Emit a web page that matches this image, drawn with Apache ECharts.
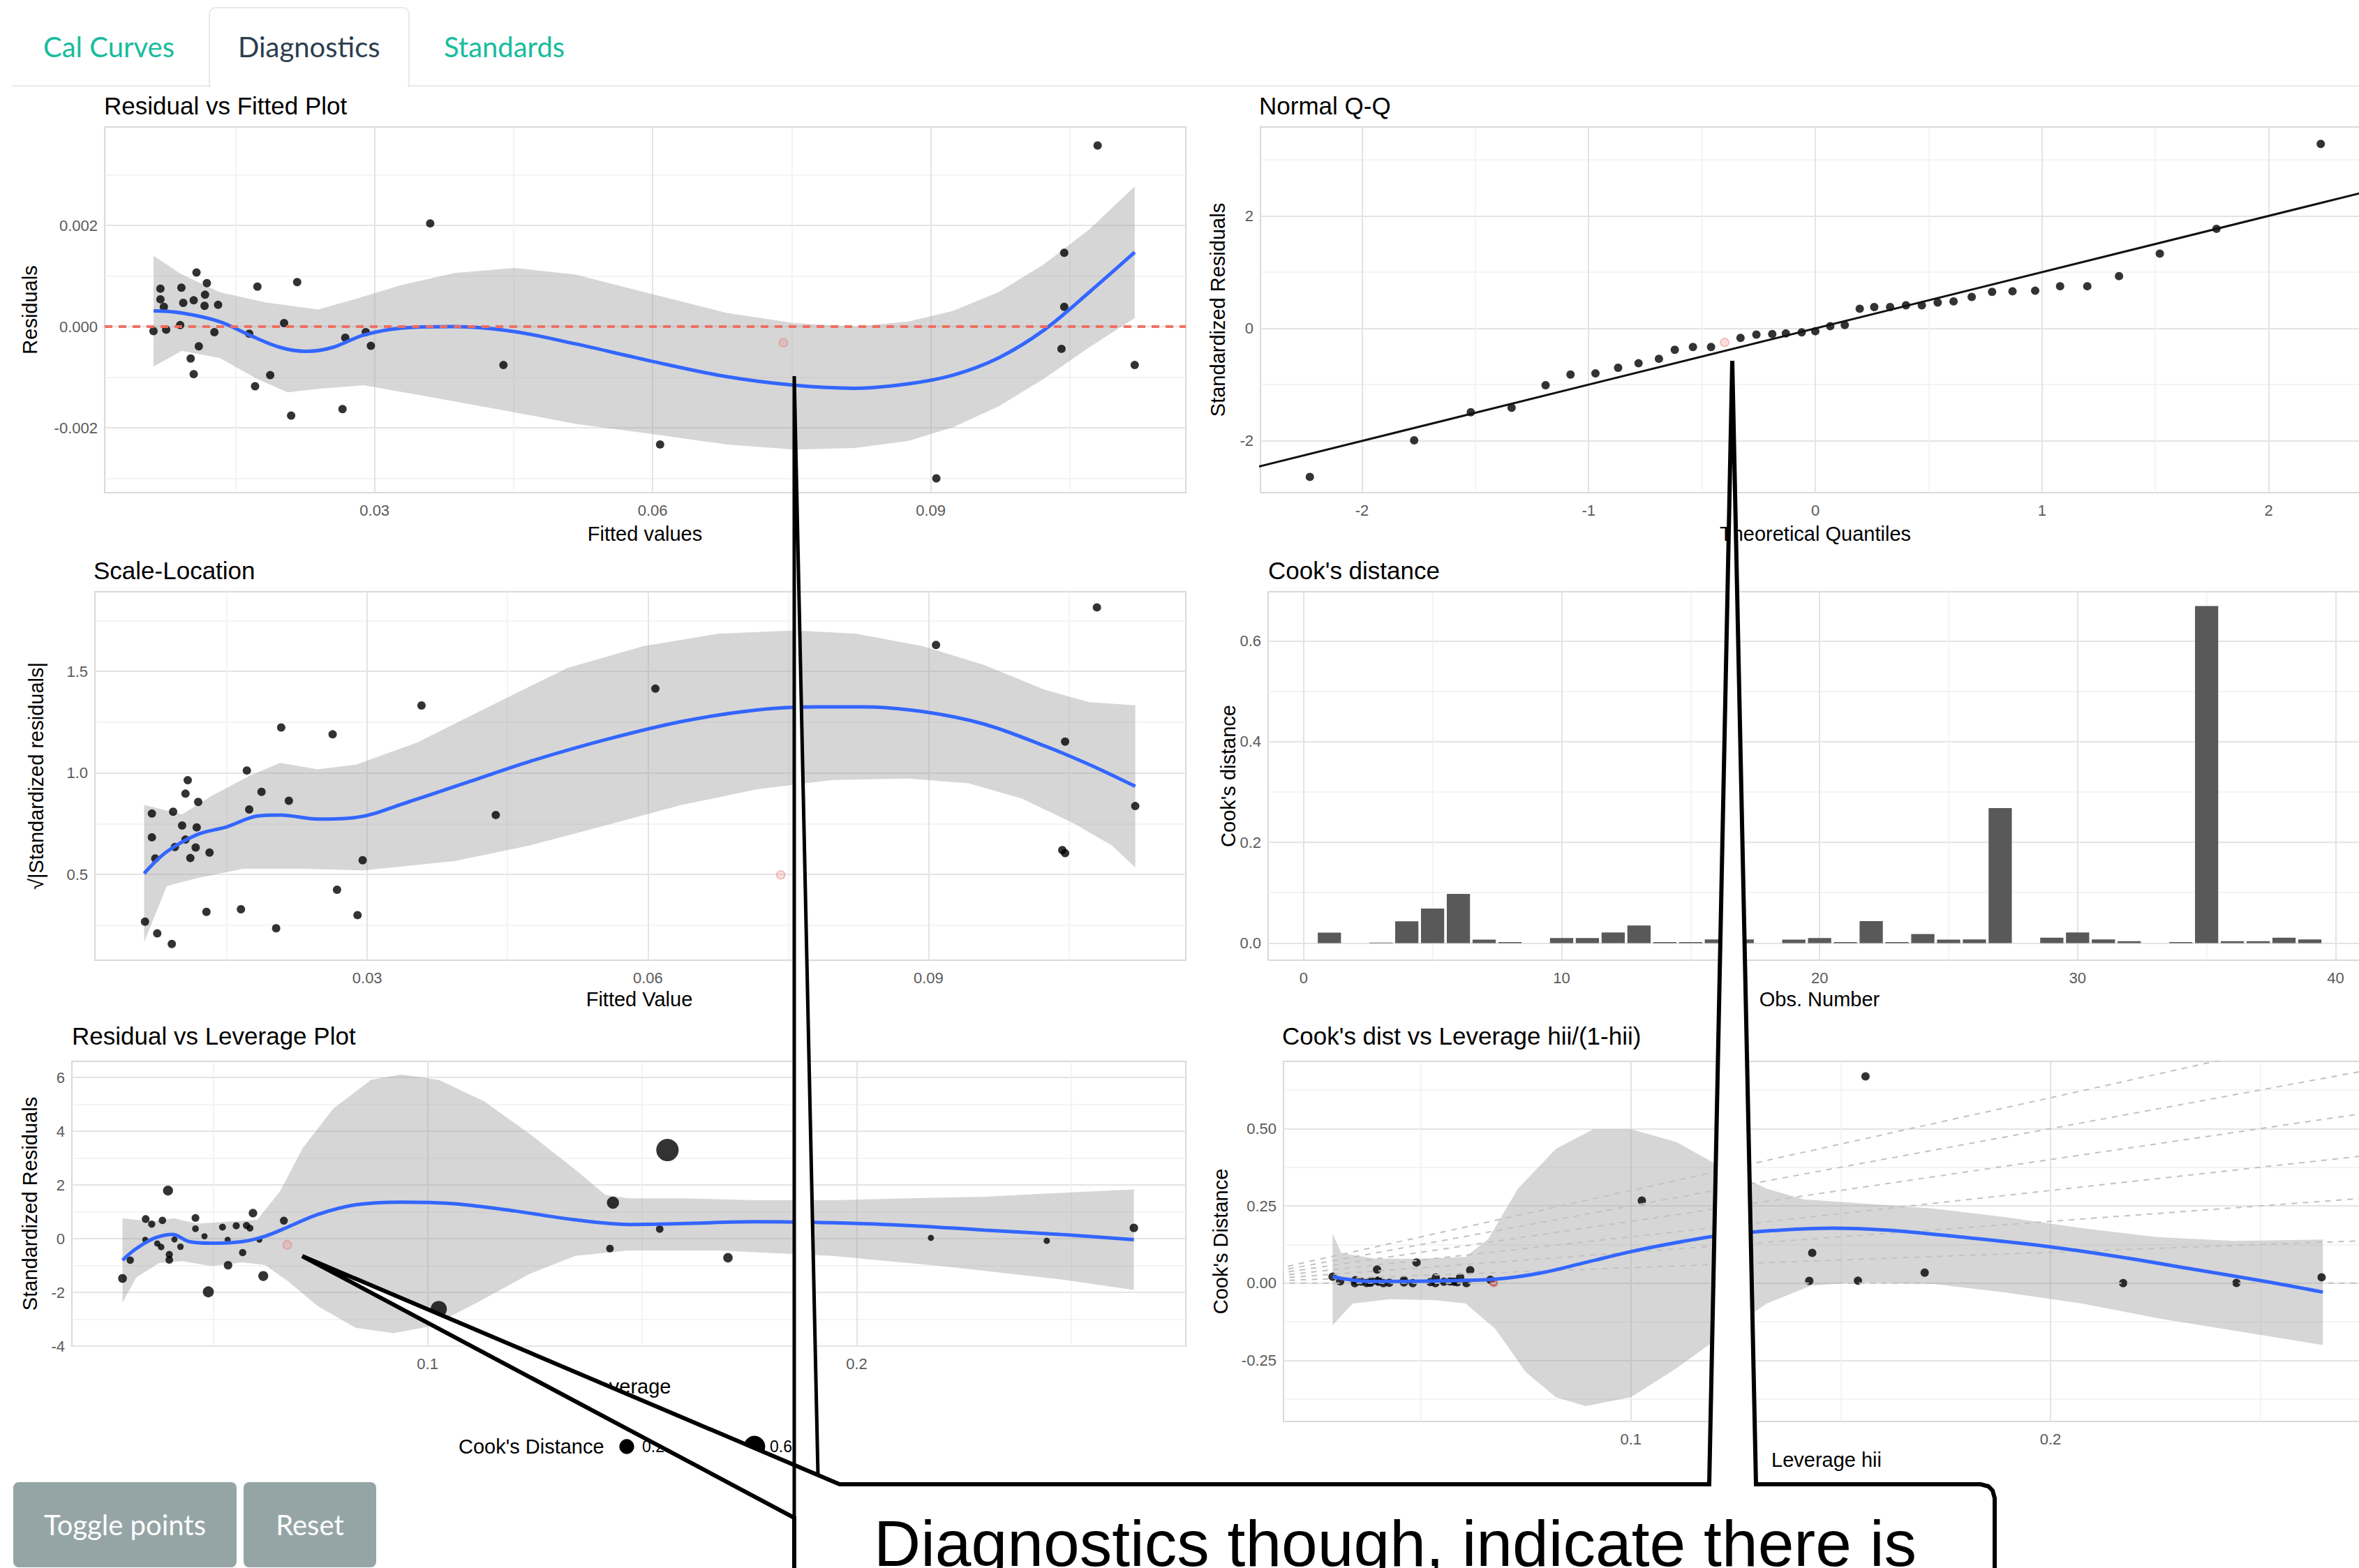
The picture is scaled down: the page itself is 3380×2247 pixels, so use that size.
<!DOCTYPE html>
<html><head><meta charset="utf-8">
<script src="https://cdn.jsdelivr.net/npm/echarts@6/dist/echarts.min.js"></script>
<style>html,body{margin:0;padding:0;background:#fff;overflow:hidden;width:3380px;height:2247px}#c{width:3440px;height:2247px}</style>
</head><body><div id="c"></div><script>
// ---------------- DATA ----------------
// Panel 1: Residual vs Fitted
const rvfX = [0.00615,0.0069,0.0069,0.00727,0.00752,0.00903,0.00916,0.00936,0.01016,0.01049,0.01049,0.01079,0.01104,0.01166,0.01171,0.01191,0.01272,0.01312,0.01648,0.01711,0.01736,0.01874,0.02024,0.021,0.02165,0.02654,0.02684,0.02905,0.0296,0.036,0.0439,0.0608,0.0906,0.1044,0.1044,0.1041,0.108,0.112];
const rvfY = [-0.00009,0.00075,0.00054,0.00039,-0.00006,0.00003,0.00077,0.00047,-0.00063,-0.00094,0.00052,0.00107,-0.00039,0.00041,0.00063,0.00086,-0.00011,0.00043,-0.00014,-0.00118,0.00079,-0.00096,0.00007,-0.00176,0.00088,-0.00163,-0.00022,-0.00011,-0.00038,0.00204,-0.00076,-0.00233,-0.003,0.00146,0.00039,-0.00044,0.00358,-0.00076];
const rvfExcluded = [[0.0741,-0.00032]];
const rvfSmooth = [[0.00616,0.00031],[0.00918,0.00027],[0.01327,0.0001],[0.01653,-0.00017],[0.0198,-0.00041],[0.02265,-0.00049],[0.02551,-0.00041],[0.02878,-0.00017],[0.03286,-0.00003],[0.03857,0],[0.0451,-0.0001],[0.05163,-0.00034],[0.0598,-0.00068],[0.068,-0.00099],[0.0753,-0.00116],[0.0818,-0.00122],[0.0876,-0.00113],[0.0924,-0.00096],[0.0973,-0.00062],[0.1022,-0.00007],[0.1071,0.00068],[0.112,0.00147]];
const rvfUpper = [[0.00616,0.0014],[0.0092,0.00103],[0.0133,0.00068],[0.0182,0.00048],[0.0239,0.00034],[0.028,0.00055],[0.0329,0.00082],[0.0386,0.00106],[0.0451,0.00116],[0.0516,0.00103],[0.0598,0.00065],[0.068,0.00027],[0.0753,0.00007],[0.0818,0],[0.0876,0.0001],[0.0924,0.00031],[0.0973,0.00068],[0.1022,0.00123],[0.1071,0.00192],[0.112,0.00277]];
const rvfLower = [[0.00616,-0.00079],[0.0092,-0.00048],[0.0133,-0.00062],[0.0173,-0.00103],[0.0206,-0.0013],[0.0239,-0.00123],[0.0288,-0.00116],[0.0353,-0.00137],[0.0435,-0.00164],[0.0516,-0.00192],[0.0598,-0.00212],[0.068,-0.00233],[0.0753,-0.00243],[0.0818,-0.0024],[0.0876,-0.00226],[0.0924,-0.00199],[0.0973,-0.00158],[0.1022,-0.00103],[0.1071,-0.00041],[0.112,0.00017]];

// Panel 2: Normal Q-Q
const qqX = [-2.23,-1.77,-1.52,-1.34,-1.19,-1.08,-0.97,-0.87,-0.78,-0.69,-0.62,-0.54,-0.46,-0.33,-0.26,-0.19,-0.13,-0.06,0,0.066,0.13,0.196,0.26,0.33,0.40,0.47,0.54,0.61,0.69,0.78,0.87,0.97,1.08,1.20,1.34,1.52,1.77,2.23];
const qqY = [-2.64,-1.99,-1.49,-1.41,-1.01,-0.82,-0.80,-0.70,-0.62,-0.54,-0.38,-0.33,-0.33,-0.17,-0.11,-0.10,-0.09,-0.07,-0.05,0.04,0.06,0.35,0.38,0.38,0.41,0.41,0.46,0.48,0.56,0.65,0.66,0.67,0.75,0.75,0.93,1.33,1.77,3.28];
const qqExcluded = [[-0.40,-0.25]];
const qqLine = {intercept: 0.0, slope: 1.0};

// Panel 3: Scale-Location
const slX = [0.00624,0.00755,0.00911,0.00698,0.00698,0.00734,0.00925,0.00944,0.01021,0.01057,0.01057,0.01081,0.01109,0.01166,0.01177,0.01193,0.01281,0.01314,0.0165,0.01713,0.01738,0.0187,0.02026,0.02162,0.02677,0.02896,0.02951,0.04374,0.0208,0.0263,0.0358,0.0608,0.0908,0.108,0.1046,0.1043,0.1046,0.1121];
const slY = [0.268,0.21,0.158,0.80,0.683,0.579,0.809,0.635,0.741,0.672,0.898,0.964,0.581,0.633,0.732,0.857,0.316,0.608,0.329,1.012,0.82,0.907,0.235,0.863,0.425,0.30,0.570,0.793,1.224,1.19,1.332,1.415,1.63,1.815,1.154,0.62,0.605,0.837];
const slExcluded = [[0.0742,0.498]];
const slSmooth = [[0.00615,0.505],[0.00857,0.612],[0.0118,0.696],[0.015,0.735],[0.0183,0.788],[0.0207,0.793],[0.0247,0.773],[0.0288,0.781],[0.0344,0.857],[0.0409,0.957],[0.0474,1.057],[0.0555,1.164],[0.0636,1.253],[0.0716,1.31],[0.0781,1.325],[0.083,1.325],[0.0894,1.302],[0.0959,1.241],[0.1024,1.133],[0.1072,1.041],[0.1121,0.934]];
const slUpper = [[0.00615,0.842],[0.0102,0.796],[0.0134,0.888],[0.0175,0.988],[0.0207,1.049],[0.0247,1.018],[0.0288,1.041],[0.0353,1.149],[0.0433,1.333],[0.0514,1.517],[0.0595,1.624],[0.0676,1.686],[0.0757,1.701],[0.0822,1.686],[0.0894,1.624],[0.0959,1.532],[0.1024,1.41],[0.1072,1.348],[0.1121,1.333]];
const slLower = [[0.00615,0.167],[0.00857,0.443],[0.0118,0.482],[0.0167,0.528],[0.0231,0.528],[0.0296,0.52],[0.0393,0.566],[0.0474,0.643],[0.0555,0.742],[0.0636,0.842],[0.0716,0.919],[0.0797,0.965],[0.0878,0.972],[0.0943,0.949],[0.1,0.873],[0.1056,0.75],[0.1096,0.643],[0.1121,0.535]];

// Panel 4: Cook's distance by observation
const cookD = [0.0205,0,0.001,0.043,0.0686,0.0977,0.0068,0.002,0,0.01,0.01,0.021,0.035,0.002,0.002,0.007,0.007,0,0.0068,0.01,0.002,0.0436,0.002,0.018,0.0068,0.007,0.268,0,0.0105,0.021,0.007,0.0036,0,0.002,0.669,0.0036,0.0036,0.0105,0.007];

// Panel 5/6: leverage, standardized residuals, Cook's distance
const rvlLev  = [0.0289,0.0307,0.0343,0.0357,0.0342,0.037,0.0379,0.0382,0.0395,0.0398,0.0398,0.041,0.0424,0.0459,0.0459,0.048,0.0522,0.0534,0.0535,0.0554,0.0578,0.0586,0.0569,0.0593,0.0608,0.0617,0.0489,0.0665,0.1026,0.1432,0.1425,0.1541,0.1559,0.17,0.2173,0.2443,0.2646];
const rvlRes  = [-1.48,-0.80,0.73,0.54,-0.04,-0.18,-0.31,0.68,1.79,-0.59,-0.79,-0.03,-0.30,0.77,0.37,0.09,0.43,-0.04,-0.99,0.48,0.49,0.39,-0.52,0.95,-0.04,-1.39,-1.98,0.67,-2.62,1.34,-0.37,0.36,3.30,-0.71,0.03,-0.08,0.40];
const rvlCook = [0.021,0.006,0.0095,0.005,0.0002,0.0005,0.0013,0.0065,0.044,0.0047,0.0085,0.0002,0.0013,0.0095,0.0022,0.0003,0.0034,0.0002,0.0185,0.0045,0.0049,0.0031,0.0055,0.019,0.0002,0.042,0.067,0.011,0.267,0.098,0.0076,0.0079,0.669,0.034,0.0002,0.0007,0.019];
const rvlExcluded = [[0.0673,-0.23]];
const cdlExcluded = [[0.0673,0.001]];
const rvlSmooth = [[0.0289,-0.80],[0.0321,-0.37],[0.0365,0.03],[0.0406,0.16],[0.0444,-0.11],[0.0497,-0.17],[0.0568,-0.11],[0.0621,0.09],[0.0674,0.43],[0.0744,0.9],[0.0832,1.26],[0.0938,1.36],[0.1062,1.30],[0.1203,1.03],[0.1344,0.70],[0.1467,0.53],[0.1591,0.56],[0.1767,0.63],[0.1944,0.59],[0.212,0.49],[0.2296,0.32],[0.2473,0.16],[0.2646,-0.04]];
const rvlUpper = [[0.0289,0.76],[0.0356,0.63],[0.0409,0.76],[0.0462,0.56],[0.0533,0.63],[0.0603,0.70],[0.0656,1.76],[0.0709,3.37],[0.078,4.84],[0.0868,5.91],[0.0938,6.11],[0.1026,5.91],[0.1132,5.11],[0.1238,3.90],[0.1344,2.57],[0.1414,1.63],[0.1467,1.50],[0.1591,1.50],[0.1767,1.43],[0.1944,1.43],[0.212,1.50],[0.2296,1.56],[0.2473,1.70],[0.2646,1.83]];
const rvlLower = [[0.0289,-2.38],[0.0321,-1.44],[0.0374,-0.91],[0.0427,-0.84],[0.0497,-1.02],[0.0568,-0.88],[0.0621,-0.98],[0.0674,-1.58],[0.0744,-2.51],[0.0832,-3.32],[0.0921,-3.52],[0.1009,-3.25],[0.1115,-2.38],[0.1238,-1.31],[0.1344,-0.64],[0.1467,-0.44],[0.1679,-0.44],[0.1944,-0.64],[0.2208,-1.04],[0.2473,-1.51],[0.2646,-1.91]];
const cookLegend = [0.2, 0.4, 0.6];

const cdlSmooth = [[0.0289,0.021],[0.0373,0.006],[0.0462,0.006],[0.0552,0.008],[0.0677,0.013],[0.0785,0.033],[0.0892,0.067],[0.1,0.102],[0.1108,0.131],[0.1215,0.155],[0.1358,0.172],[0.1484,0.178],[0.1609,0.172],[0.1789,0.149],[0.1986,0.12],[0.2165,0.085],[0.2344,0.044],[0.2523,0.003],[0.2649,-0.029]];
const cdlUpper = [[0.0289,0.16],[0.031,0.097],[0.0391,0.079],[0.0498,0.079],[0.0606,0.085],[0.066,0.143],[0.0731,0.306],[0.0821,0.434],[0.091,0.498],[0.1,0.498],[0.1108,0.457],[0.1215,0.376],[0.1323,0.306],[0.1412,0.271],[0.1538,0.259],[0.1717,0.242],[0.1896,0.213],[0.2075,0.178],[0.2254,0.149],[0.2434,0.137],[0.2649,0.141]];
const cdlLower = [[0.0289,-0.136],[0.0337,-0.066],[0.0427,-0.052],[0.0534,-0.055],[0.0606,-0.066],[0.0677,-0.148],[0.0749,-0.287],[0.0821,-0.369],[0.0892,-0.398],[0.1,-0.369],[0.1108,-0.276],[0.1215,-0.171],[0.1323,-0.066],[0.143,-0.008],[0.1538,0.003],[0.1717,-0.002],[0.1896,-0.031],[0.2075,-0.066],[0.2254,-0.113],[0.2434,-0.153],[0.2649,-0.2]];
const cookContourSlopes = [0, 0.5, 1, 1.5, 2, 2.5, 3];

// Tick values
const p1XMajor=[0.03,0.06,0.09], p1XMinor=[0.015,0.045,0.075,0.105];
const p1YMajor=[-0.002,0,0.002], p1YMinor=[-0.003,-0.001,0.001,0.003];
const p2XMajor=[-2,-1,0,1,2], p2XMinor=[-1.5,-0.5,0.5,1.5];
const p2YMajor=[-2,0,2], p2YMinor=[-1,1,3];
const p3YMajor=[0.5,1.0,1.5], p3YMinor=[0.25,0.75,1.25,1.75];
const p4XMajor=[0,10,20,30,40], p4XMinor=[5,15,25,35];
const p4YMajor=[0,0.2,0.4,0.6], p4YMinor=[0.1,0.3,0.5];
const p5XMajor=[0.1,0.2], p5XMinor=[0.05,0.15,0.25];
const p5YMajor=[-4,-2,0,2,4,6], p5YMinor=[-3,-1,1,3,5];
const p6YMajor=[-0.25,0,0.25,0.5], p6YMinor=[-0.375,-0.125,0.125,0.375,0.625];

// ---------------- LAYOUT / STYLE ----------------
const F = '"Liberation Sans", Arial, Helvetica, sans-serif';
const LATO = 'Lato, "Liberation Sans", sans-serif';
const BLUE = '#3366FF';
const RIBBON = 'rgba(153,153,153,0.4)';
const PINK = {color:'rgba(248,118,109,0.3)', borderColor:'rgba(225,110,110,0.55)', borderWidth:1.5};

const gridBoxes = [
  {left:150, top:182, width:1549, height:524},
  {left:1806, top:182, width:1590, height:524},
  {left:136, top:848, width:1563, height:528},
  {left:1817, top:848, width:1582, height:528},
  {left:103, top:1521, width:1596, height:408},
  {left:1839, top:1521, width:1559, height:516}
];
const xRanges = [[0.000886,0.11751],[-2.448,2.448],[0.000889,0.1175],[-1.374,41.42],[0.0171,0.2767],[0.0172,0.2765]];
const yRanges = [[-0.003283,0.003946],[-2.92,3.58],[0.078,1.892],[-0.0341,0.6975],[-4.0,6.60],[-0.4474,0.7175]];

const fx2 = v => v.toFixed(2), fx3 = v => v.toFixed(3), fx1 = v => v.toFixed(1), fint = v => String(Math.round(v));
const xTicks = [[p1XMajor,p1XMinor,fx2],[p2XMajor,p2XMinor,fint],[p1XMajor,p1XMinor,fx2],[p4XMajor,p4XMinor,fint],[p5XMajor,p5XMinor,fx1],[p5XMajor,p5XMinor,fx1]];
const yTicks = [[p1YMajor,p1YMinor,fx3],[p2YMajor,p2YMinor,fint],[p3YMajor,p3YMinor,fx1],[p4YMajor,p4YMinor,fx1],[p5YMajor,p5YMinor,fint],[p6YMajor,p6YMinor,fx2]];

const grid = gridBoxes.map(g => Object.assign({show:true, backgroundColor:'#fff', borderColor:'#d9d9d9', borderWidth:2, containLabel:false}, g));

function mkAxes(dim, gi, range, major, minor, fmt) {
  return [
    {type:'value', gridIndex:gi, min:range[0], max:range[1], position: dim==='x'?'bottom':'left',
     axisLine:{show:false}, axisTick:{show:false, customValues:major},
     axisLabel:{customValues:major, formatter:fmt, color:'#5a5a5a', fontSize:22, fontFamily:F, margin: dim==='x'?14:10},
     splitLine:{show:true, lineStyle:{color:'#e4e4e4', width:2}}},
    {type:'value', gridIndex:gi, min:range[0], max:range[1], position: dim==='x'?'bottom':'left',
     axisLine:{show:false}, axisTick:{show:false, customValues:minor},
     axisLabel:{show:false, customValues:minor},
     splitLine:{show:true, lineStyle:{color:'#f1f1f1', width:1.5}}}
  ];
}
const xAxis = [], yAxis = [];
for (let i = 0; i < 6; i++) {
  xAxis.push(...mkAxes('x', i, xRanges[i], xTicks[i][0], xTicks[i][1], xTicks[i][2]));
  yAxis.push(...mkAxes('y', i, yRanges[i], yTicks[i][0], yTicks[i][1], yTicks[i][2]));
}

const zip = (a, b) => a.map((v, i) => [v, b[i]]);
function ribbon(p, upper, lower) {
  const poly = upper.concat(lower.slice().reverse());
  return {type:'custom', xAxisIndex:2*p, yAxisIndex:2*p, silent:true, data:[poly[0]],
    renderItem: (params, api) => ({type:'polygon', shape:{points: poly.map(pt => api.coord(pt))}, style:{fill:RIBBON}})};
}
function smooth(p, pts) {
  return {type:'line', xAxisIndex:2*p, yAxisIndex:2*p, data:pts, smooth:0.35, symbol:'none', silent:true,
    lineStyle:{color:BLUE, width:5}};
}
function points(p, pts, extra) {
  return Object.assign({type:'scatter', xAxisIndex:2*p, yAxisIndex:2*p, data:pts, symbolSize:12, silent:true,
    itemStyle:{color:'#000'}}, extra || {});
}
function excluded(p, pts, style) {
  return {type:'scatter', xAxisIndex:2*p, yAxisIndex:2*p, data:pts, symbolSize:12, silent:true, itemStyle:style || PINK};
}
// ggplot-like area size scale (range 1..6) converted to pixel diameter
const cookSize = c => 2 + 1.667 * (2.845 * (1 + 5 * Math.sqrt(Math.max(c, 0) / 0.669)) + 0.945);

const series = [];
// Panel 1
series.push(ribbon(0, rvfUpper, rvfLower));
series.push(points(0, zip(rvfX, rvfY)));
series.push(excluded(0, rvfExcluded));
series.push({type:'line', xAxisIndex:0, yAxisIndex:0, data:[], silent:true,
  markLine:{silent:true, symbol:'none', label:{show:false}, data:[{yAxis:0}],
    lineStyle:{color:'#F36A5F', type:[11,9], width:4, opacity:0.95}}});
series.push(smooth(0, rvfSmooth));
// Panel 2
const qxs = [-3, 3];
series.push({type:'line', xAxisIndex:2, yAxisIndex:2, silent:true, symbol:'none',
  data: qxs.map(x => [x, qqLine.intercept + qqLine.slope * x]), lineStyle:{color:'#111', width:3}});
series.push(points(1, zip(qqX, qqY)));
series.push(excluded(1, qqExcluded));
// Panel 3
series.push(ribbon(2, slUpper, slLower));
series.push(points(2, zip(slX, slY)));
series.push(excluded(2, slExcluded));
series.push(smooth(2, slSmooth));
// Panel 4
series.push({type:'custom', xAxisIndex:6, yAxisIndex:6, silent:true,
  data: cookD.map((v, i) => [i + 1, v]),
  renderItem: (params, api) => {
    const x = api.value(0), y = api.value(1);
    const a = api.coord([x - 0.45, y]), b = api.coord([x + 0.45, 0]);
    return {type:'rect', shape:{x:a[0], y:a[1], width:b[0]-a[0], height:b[1]-a[1]}, style:{fill:'#595959'}};
  }});
// Panel 5
series.push(points(4, rvlLev.map((x, i) => [x, rvlRes[i], rvlCook[i]]), {symbolSize: v => cookSize(v[2])}));
series.push(excluded(4, rvlExcluded));
series.push(ribbon(4, rvlUpper, rvlLower));
series.push(smooth(4, rvlSmooth));
// Panel 6
cookContourSlopes.forEach(s => {
  series.push({type:'line', xAxisIndex:10, yAxisIndex:10, silent:true, symbol:'none',
    data:[[0, 0], [0.3, s * 0.3]], lineStyle:{color:'#c2c2c2', width:2, type:[8,8]}});
});
series.push(ribbon(5, cdlUpper, cdlLower));
series.push(smooth(5, cdlSmooth));
series.push(points(5, zip(rvlLev, rvlCook)));
series.push(excluded(5, cdlExcluded, {color:'rgba(200,50,40,0.75)'}));

// ---------------- GRAPHIC (titles, tabs, buttons, callout) ----------------
function text(t, x, y, size, opt) {
  opt = opt || {};
  return {type:'text', x:x, y:y, rotation: opt.rot || 0, z: opt.z || 10,
    style:{text:t, font:(opt.weight||'normal') + ' ' + size + 'px ' + (opt.family || F), fill: opt.fill || '#000',
      textAlign: opt.align || 'left', textVerticalAlign: 'middle'}};
}
const g = [];
// tabs
g.push({type:'line', shape:{x1:17, y1:123, x2:3440, y2:123}, style:{stroke:'#e6eaec', lineWidth:2}});
g.push({type:'rect', shape:{x:300, y:11, width:286, height:113, r:[9,9,0,0]}, style:{fill:'#fff', stroke:'#e6eaec', lineWidth:2}});
g.push({type:'line', shape:{x1:302, y1:123, x2:584, y2:123}, style:{stroke:'#fff', lineWidth:4}});
g.push(text('Cal Curves', 62, 67, 40, {family:LATO, fill:'#18BC9C'}));
g.push(text('Diagnostics', 341, 67, 40, {family:LATO, fill:'#2C3E50'}));
g.push(text('Standards', 636, 67, 40, {family:LATO, fill:'#18BC9C'}));
// panel titles
g.push(text('Residual vs Fitted Plot', 149, 151, 35));
g.push(text('Normal Q-Q', 1804, 151, 35));
g.push(text('Scale-Location', 134, 817, 35));
g.push(text("Cook's distance", 1817, 817, 35));
g.push(text('Residual vs Leverage Plot', 103, 1484, 35));
g.push(text("Cook's dist vs Leverage hii/(1-hii)", 1837, 1484, 35));
// axis titles
g.push(text('Fitted values', 924, 765, 29, {align:'center'}));
g.push(text('Residuals', 43, 444, 29, {align:'center', rot:Math.PI/2}));
g.push(text('Theoretical Quantiles', 2601, 765, 29, {align:'center'}));
g.push(text('Standardized Residuals', 1745, 444, 29, {align:'center', rot:Math.PI/2}));
g.push(text('Fitted Value', 916, 1432, 29, {align:'center'}));
g.push(text('\u221A|Standardized residuals|', 52, 1112, 29, {align:'center', rot:Math.PI/2}));
g.push(text('Obs. Number', 2607, 1432, 29, {align:'center'}));
g.push(text("Cook's distance", 1760, 1112, 29, {align:'center', rot:Math.PI/2}));
g.push(text('Leverage', 901, 1987, 29, {align:'center'}));
g.push(text('Standardized Residuals', 43, 1725, 29, {align:'center', rot:Math.PI/2}));
g.push(text('Leverage hii', 2617, 2092, 29, {align:'center'}));
g.push(text("Cook's Distance", 1749, 1779, 29, {align:'center', rot:Math.PI/2}));
// size legend (panel 5)
g.push(text("Cook's Distance", 657, 2073, 29));
const legX = [898, 990, 1081];
cookLegend.forEach((c, i) => {
  g.push({type:'circle', shape:{cx:legX[i], cy:2073, r:cookSize(c)/2}, style:{fill:'#000'}, z:10});
  g.push(text(c.toFixed(1), legX[i] + 22, 2073, 23));
});
// buttons
g.push({type:'rect', shape:{x:19, y:2124, width:320, height:122, r:8}, style:{fill:'#95A5A6'}});
g.push(text('Toggle points', 179, 2185, 40, {family:LATO, fill:'#fff', align:'center'}));
g.push({type:'rect', shape:{x:349, y:2124, width:190, height:122, r:8}, style:{fill:'#95A5A6'}});
g.push(text('Reset', 444, 2185, 40, {family:LATO, fill:'#fff', align:'center'}));
// callout: white fills
const CZ = 60;
g.push({type:'rect', z:CZ, shape:{x:1138, y:2127, width:1720, height:200, r:[0,20,0,0]}, style:{fill:'#fff'}});
g.push({type:'polygon', z:CZ, shape:{points:[[433,1800],[1138,2175],[1138,2127],[1203,2127]]}, style:{fill:'#fff'}});
g.push({type:'polygon', z:CZ, shape:{points:[[1138,539],[1138,2175],[1172,2114]]}, style:{fill:'#fff'}});
g.push({type:'polygon', z:CZ, shape:{points:[[2482,517],[2449,2131],[2516,2131]]}, style:{fill:'#fff'}});
// callout: outlines
g.push({type:'polyline', z:CZ+1, shape:{points:[[1138,2260],[1138,2175],[433,1800],[1203,2127],[2449,2127],[2482,517],[2516,2127],[2838,2127],[2849,2130],[2855,2136],[2858,2147],[2858,2260]]},
  style:{stroke:'#000', lineWidth:6, fill:null, lineJoin:'miter'}});
g.push({type:'polyline', z:CZ+1, shape:{points:[[1138,2175],[1138,539],[1172,2114]]}, style:{stroke:'#000', lineWidth:5, fill:null}});
g.push(text('Diagnostics though, indicate there is', 1252, 2212, 93, {z:CZ+2}));

const chart = echarts.init(document.getElementById('c'), null, {renderer:'svg', width:3440, height:2247});
chart.setOption({animation:false, backgroundColor:'#fff', grid, xAxis, yAxis, series, graphic:{elements:g}});
</script></body></html>
